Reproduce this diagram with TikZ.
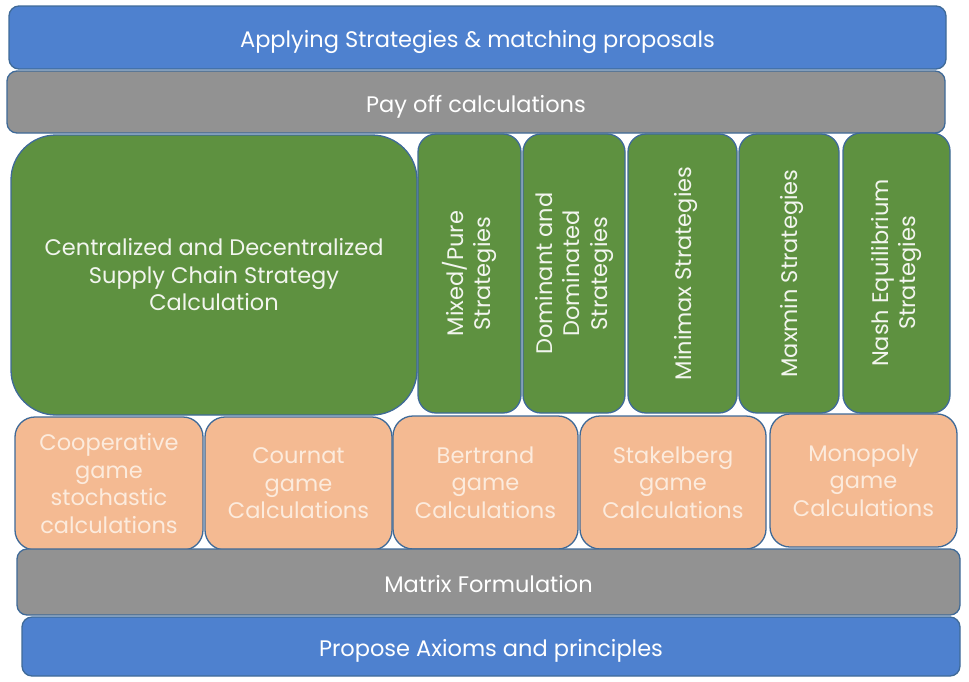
\documentclass[tikz,border=0pt]{standalone}
\usepackage{fontspec}
\setmainfont{Poppins}
\definecolor{bluefill}{HTML}{4E81CF}
\definecolor{grayfill}{HTML}{929292}
\definecolor{greenfill}{HTML}{5E9140}
\definecolor{orangefill}{HTML}{F4BA92}
\definecolor{edgecol}{HTML}{3F6A98}
\definecolor{orangetext}{HTML}{FCEBDD}
\definecolor{greentext}{HTML}{F2F5EE}
\begin{document}
\begin{tikzpicture}[x=1pt,y=-1pt,
  base/.style={draw=edgecol, line width=1.3pt, align=center, inner sep=0pt, font=\fontsize{22.5}{27.5}\selectfont},
  bluebar/.style={base, fill=bluefill, text=white, rounded corners=10pt, text depth=0pt, text height=20pt},
  graybar/.style={base, fill=grayfill, text=white, rounded corners=10pt, text depth=0pt, text height=20pt},
  greenbox/.style={base, fill=greenfill, text=greentext, rounded corners=18pt},
  oneline/.style={text depth=0pt, text height=17pt},
  orangebox/.style={base, fill=orangefill, text=orangetext, rounded corners=20pt},
]
\useasboundingbox (0,0) rectangle (969,681);
% top bars
\node[bluebar, minimum width=937pt, minimum height=63pt] (apply) at (477.5,37.5) {Applying Strategies \& matching proposals};
\node[graybar, minimum width=938pt, minimum height=62pt] (payoff) at (476,102) {Pay off calculations};
% green
\node[greenbox, rounded corners=45pt, minimum width=406pt, minimum height=280pt] (central) at (214,275) {Centralized and Decentralized\\Supply Chain Strategy\\Calculation};
\node[greenbox, rotate=90, minimum width=279pt, minimum height=103pt] (mixed) at (469.5,273.5) {Mixed/Pure\\Strategies};
\node[greenbox, rotate=90, minimum width=279pt, minimum height=102pt] (dominant) at (574,273.5) {Dominant and\\Dominated\\Strategies};
\node[greenbox, oneline, rotate=90, minimum width=279pt, minimum height=109pt] (minimax) at (682.5,273.5) {Minimax Strategies};
\node[greenbox, oneline, rotate=90, minimum width=279pt, minimum height=100pt] (maxmin) at (789,273.5) {Maxmin Strategies};
\node[greenbox, rotate=90, minimum width=280pt, minimum height=107pt] (nash) at (896.5,273) {Nash Equilibrium\\Strategies};
% orange
\node[orangebox, minimum width=188pt, minimum height=133pt] (coop) at (109,483.5) {Cooperative\\game\\stochastic\\calculations};
\node[orangebox, minimum width=187pt, minimum height=133pt] (cournat) at (298.5,483.5) {Cournat\\game\\Calculations};
\node[orangebox, minimum width=185pt, minimum height=133pt] (bertrand) at (485.5,482.5) {Bertrand\\game\\Calculations};
\node[orangebox, minimum width=186pt, minimum height=133pt] (stakelberg) at (673,482.5) {Stakelberg\\game\\Calculations};
\node[orangebox, minimum width=187pt, minimum height=133pt] (monopoly) at (863.5,480.5) {Monopoly\\game\\Calculations};
% bottom bars
\node[graybar, minimum width=943pt, minimum height=66pt] (matrix) at (488.5,582) {Matrix Formulation};
\node[bluebar, minimum width=938pt, minimum height=59pt] (axioms) at (491,646.5) {Propose Axioms and principles};
\end{tikzpicture}
\end{document}
